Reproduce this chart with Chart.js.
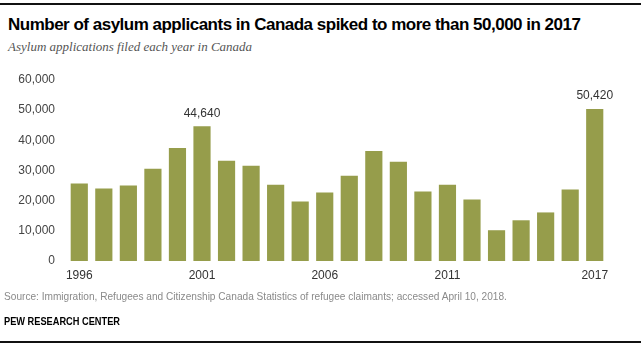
<!DOCTYPE html>
<html>
<head>
<meta charset="utf-8">
<script src="https://cdn.jsdelivr.net/npm/chart.js@4"></script>
<style>
  html, body { margin: 0; padding: 0; background: #fff; }
  #wrap { position: relative; width: 641px; height: 347px; overflow: hidden; }
  #chart { position: absolute; left: 0; top: 0; }
  .rule { position: absolute; left: 0; width: 641px; height: 2px; background: #111; }
  .txt { position: absolute; left: 8px; white-space: nowrap; transform-origin: left center; }
  #title { top: 15px; font: bold 17px "Liberation Sans", Arial, sans-serif; letter-spacing: -0.5px; color: #000; }
  #subtitle { top: 39px; font: italic 13px "Liberation Serif", Georgia, serif; color: #555; }
  #source { left: 4px; top: 290px; font: 11px "Liberation Sans", sans-serif; color: #8a8a8a; transform: scaleX(0.92); }
  #brand { left: 4px; top: 315px; font: bold 11px "Liberation Sans", sans-serif; color: #000; transform: scaleX(0.84); }
</style>
</head>
<body>
<div id="wrap">
  <div class="rule" style="top:3px"></div>
  <div class="txt" id="title">Number of asylum applicants in Canada spiked to more than 50,000 in 2017</div>
  <div class="txt" id="subtitle">Asylum applications filed each year in Canada</div>
  <canvas id="chart" width="641" height="347"></canvas>
  <div class="txt" id="source">Source: Immigration, Refugees and Citizenship Canada Statistics of refugee claimants; accessed April 10, 2018.</div>
  <div class="txt" id="brand">PEW RESEARCH CENTER</div>
  <div class="rule" style="top:341px"></div>
</div>
<script>
// yearly asylum claims
const years = ["1996", "1997", "1998", "1999", "2000", "2001", "2002", "2003", "2004", "2005", "2006",
               "2007", "2008", "2009", "2010", "2011", "2012", "2013", "2014", "2015", "2016", "2017"];
const claims = [25700, 24000, 25000, 30600, 37500, 44640, 33200, 31600, 25300, 19700, 22700,
                28300, 36500, 32900, 23000, 25300, 20400, 10200, 13500, 16100, 23700, 50420];
const shownYears = ["1996", "2001", "2006", "2011", "2017"];
const labelledYears = ["2001", "2017"];
const yTicks = [0, 10000, 20000, 30000, 40000, 50000, 60000];

const fmt = v => v.toLocaleString("en-US");

// numbers above the highlighted bars
const valueLabels = {
    id: "valueLabels",
    afterDatasetsDraw(chart) {
        const ctx = chart.ctx;
        const meta = chart.getDatasetMeta(0);
        ctx.save();
        ctx.font = "12px 'Liberation Sans', Arial, sans-serif";
        ctx.fillStyle = "#333";
        ctx.textAlign = "center";
        ctx.textBaseline = "middle";
        years.forEach((y, i) => {
            if (!labelledYears.includes(y)) return;
            const bar = meta.data[i];
            ctx.fillText(fmt(claims[i]), bar.x, bar.y - 13);
        });
        ctx.restore();
    }
};

new Chart(document.getElementById("chart"), {
    type: "bar",
    data: {
        labels: years,
        datasets: [{
            data: claims,
            backgroundColor: "#969d4b",
            categoryPercentage: 1,
            barPercentage: 0.7
        }]
    },
    options: {
        responsive: false,
        animation: false,
        layout: { padding: { top: 80, right: 34, bottom: 66, left: 0 } },
        plugins: { legend: { display: false }, tooltip: { enabled: false } },
        scales: {
            x: {
                grid: { display: false, drawTicks: false },
                border: { display: false },
                afterFit: s => { s.height = 20; },
                ticks: {
                    autoSkip: false,
                    maxRotation: 0,
                    padding: 7,
                    color: "#333",
                    font: { family: "'Liberation Sans', Arial, sans-serif", size: 12 },
                    callback: (v, i) => shownYears.includes(years[i]) ? years[i] : ""
                }
            },
            y: {
                min: 0,
                max: 60000,
                grid: { display: false, drawTicks: false },
                border: { display: false },
                afterFit: s => { s.width = 67; },
                afterBuildTicks: s => { s.ticks = yTicks.map(v => ({ value: v })); },
                ticks: {
                    padding: 12,
                    color: "#444",
                    font: { family: "'Liberation Sans', Arial, sans-serif", size: 12 },
                    callback: v => fmt(v)
                }
            }
        }
    },
    plugins: [valueLabels]
});
</script>
</body>
</html>
